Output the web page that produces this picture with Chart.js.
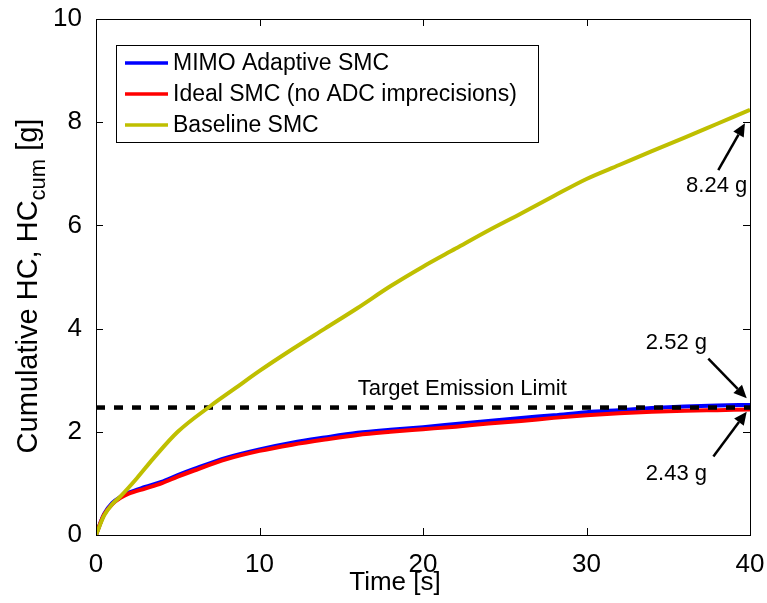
<!DOCTYPE html>
<html>
<head>
<meta charset="utf-8">
<script src="https://cdn.jsdelivr.net/npm/chart.js@4.4.1/dist/chart.umd.min.js"></script>
<style>
html,body{margin:0;padding:0;background:#fff;}
canvas{display:block;}
</style>
</head>
<body>
<canvas id="c" width="767" height="603"></canvas>
<script>
// ---- data ----
const timeSMC = [0,0.25,0.5,1,1.5,2,3,4,5,6,8,10,12,14,16,18,20,22,24,26,28,30,32,34,36,38,40];
const mimoAdaptive = [0,0.22,0.41,0.62,0.74,0.82,0.93,1.03,1.16,1.28,1.5,1.66,1.79,1.89,1.98,2.04,2.09,2.15,2.21,2.27,2.32,2.38,2.42,2.46,2.49,2.51,2.52];
const idealSMC = [0,0.22,0.4,0.6,0.72,0.8,0.9,1.0,1.13,1.25,1.47,1.63,1.75,1.85,1.94,2.0,2.05,2.1,2.16,2.21,2.27,2.32,2.36,2.39,2.41,2.42,2.43];
const timeBaseline = [0,0.5,1,1.5,2.5,3.5,5,7,8.5,10,12,14,16,18,20,22,24,26,28,30,32,34,36,38,40];
const baselineSMC = [0,0.38,0.6,0.75,1.1,1.48,2.0,2.5,2.84,3.18,3.6,4.0,4.4,4.82,5.2,5.55,5.9,6.23,6.57,6.9,7.17,7.44,7.7,7.97,8.24];
const targetTime = [0,40];
const targetLimit = [2.47,2.47];
const xTicks = [0,10,20,30,40];
const yTicks = [0,2,4,6,8,10];
const seriesNames = ['MIMO Adaptive SMC','Ideal SMC (no ADC imprecisions)','Baseline SMC'];
const targetLabel = 'Target Emission Limit';
// annotations: [label, textT, textV, tailT, tailV, headT, headV]
const annotations = [
  ['8.24 g', 37.96, 6.65, 38.06, 7.07, 39.69, 7.98],
  ['2.52 g', 35.5, 3.6, 37.45, 3.42, 39.8, 2.65],
  ['2.43 g', 35.5, 1.07, 37.76, 1.52, 39.8, 2.39]
];

const BLUE='#0000FF', RED='#FF0000', YEL='#BFBF00';
const FONT='Arial, "Liberation Sans", sans-serif';

function pts(xs, ys){ return xs.map((x,i)=>({x:x, y:ys[i]})); }

const overlay = {
  id:'overlay',
  beforeDraw(chart){
    const ctx=chart.ctx; ctx.save(); ctx.fillStyle='#fff'; ctx.fillRect(0,0,chart.width,chart.height); ctx.restore();
  },
  afterDatasetsDraw(chart){
    const ctx=chart.ctx, a=chart.chartArea, sx=chart.scales.x, sy=chart.scales.y;
    ctx.save();
    // frame
    ctx.strokeStyle='#000'; ctx.lineWidth=1;
    ctx.strokeRect(Math.round(a.left)+0.5, Math.round(a.top)+0.5, Math.round(a.right-a.left), Math.round(a.bottom-a.top));
    // inward ticks
    const tl=7;
    ctx.beginPath();
    xTicks.forEach(v=>{const px=Math.round(sx.getPixelForValue(v))+0.5;
      ctx.moveTo(px,a.bottom); ctx.lineTo(px,a.bottom-tl);
      ctx.moveTo(px,a.top); ctx.lineTo(px,a.top+tl);});
    yTicks.forEach(v=>{const py=Math.round(sy.getPixelForValue(v))+0.5;
      ctx.moveTo(a.left,py); ctx.lineTo(a.left+tl,py);
      ctx.moveTo(a.right,py); ctx.lineTo(a.right-tl,py);});
    ctx.stroke();

    // target label
    ctx.fillStyle='#000';
    ctx.font='22px '+FONT; ctx.textAlign='center'; ctx.textBaseline='alphabetic';
    ctx.fillText(targetLabel, sx.getPixelForValue(22.4), sy.getPixelForValue(2.71));

    // annotations with arrows
    annotations.forEach(an=>{
      const [lab,tt,tv,t0,v0,t1,v1]=an;
      ctx.fillText(lab, sx.getPixelForValue(tt), sy.getPixelForValue(tv));
      const x0=sx.getPixelForValue(t0), y0=sy.getPixelForValue(v0);
      const x1=sx.getPixelForValue(t1), y1=sy.getPixelForValue(v1);
      const ang=Math.atan2(y1-y0,x1-x0), hl=13, hw=6;
      const bx=x1-hl*Math.cos(ang), by=y1-hl*Math.sin(ang);
      ctx.strokeStyle='#000'; ctx.lineWidth=2.5;
      ctx.beginPath(); ctx.moveTo(x0,y0); ctx.lineTo(bx,by); ctx.stroke();
      ctx.beginPath();
      ctx.moveTo(x1,y1);
      ctx.lineTo(bx+hw*Math.sin(ang), by-hw*Math.cos(ang));
      ctx.lineTo(bx-hw*Math.sin(ang), by+hw*Math.cos(ang));
      ctx.closePath(); ctx.fill();
    });

    // legend
    const lx=116, ly=45, lw=422, lh=97;
    ctx.fillStyle='#fff'; ctx.fillRect(lx,ly,lw,lh);
    ctx.strokeStyle='#000'; ctx.lineWidth=1; ctx.strokeRect(lx+0.5,ly+0.5,lw,lh);
    const cols=[BLUE,RED,YEL], rows=[63,94,125];
    ctx.font='23px '+FONT; ctx.textAlign='left'; ctx.textBaseline='middle';
    seriesNames.forEach((n,i)=>{
      ctx.strokeStyle=cols[i]; ctx.lineWidth=3.5;
      ctx.beginPath(); ctx.moveTo(125,rows[i]); ctx.lineTo(168,rows[i]); ctx.stroke();
      ctx.fillStyle='#000'; ctx.fillText(n,173,rows[i]+1);
    });

    // axis titles
    ctx.fillStyle='#000';
    ctx.font='26px '+FONT; ctx.textAlign='center'; ctx.textBaseline='alphabetic';
    ctx.fillText('Time [s]', 395, 590);
    // y title with subscript
    ctx.save();
    ctx.translate(37, 286); ctx.rotate(-Math.PI/2);
    const p1='Cumulative HC, HC', p2='cum', p3=' [g]';
    ctx.font='29px '+FONT; const w1=ctx.measureText(p1).width, w3=ctx.measureText(p3).width;
    ctx.font='22px '+FONT; const w2=ctx.measureText(p2).width;
    let x=-(w1+w2+w3)/2;
    ctx.textAlign='left';
    ctx.font='29px '+FONT; ctx.fillText(p1,x,0); x+=w1;
    ctx.font='22px '+FONT; ctx.fillText(p2,x,8); x+=w2;
    ctx.font='29px '+FONT; ctx.fillText(p3,x,0);
    ctx.restore();
    ctx.restore();
  }
};

new Chart(document.getElementById('c'), {
  type:'line',
  data:{
    datasets:[
      {label:seriesNames[0], data:pts(timeSMC,mimoAdaptive), borderColor:BLUE, borderWidth:4, order:3},
      {label:seriesNames[1], data:pts(timeSMC,idealSMC), borderColor:RED, borderWidth:4, order:2},
      {label:seriesNames[2], data:pts(timeBaseline,baselineSMC), borderColor:YEL, borderWidth:4, order:0},
      {label:targetLabel, data:pts(targetTime,targetLimit), borderColor:'#000', borderWidth:4.5, borderDash:[9,9], order:1, cubicInterpolationMode:'default'}
    ]
  },
  options:{
    responsive:false, animation:false, devicePixelRatio:1,
    elements:{point:{radius:0}, line:{cubicInterpolationMode:'monotone', fill:false, borderCapStyle:'butt'}},
    layout:{padding:{left:0,right:17,top:19,bottom:0}},
    plugins:{legend:{display:false}, tooltip:{enabled:false}, title:{display:false}},
    scales:{
      x:{type:'linear', min:0, max:40,
         afterBuildTicks(s){ s.ticks=xTicks.map(v=>({value:v})); },
         afterFit(s){ s.height=68; s.paddingLeft=0; s.paddingRight=0; },
         grid:{display:false}, border:{display:false},
         ticks:{color:'#000', font:{size:26, family:FONT}, padding:6, maxRotation:0, autoSkip:false}},
      y:{type:'linear', min:0, max:10,
         afterBuildTicks(s){ s.ticks=yTicks.map(v=>({value:v})); },
         afterFit(s){ s.width=96; s.paddingTop=0; s.paddingBottom=0; },
         grid:{display:false}, border:{display:false},
         ticks:{color:'#000', font:{size:26, family:FONT}, padding:6}}
    }
  },
  plugins:[overlay]
});
</script>
</body>
</html>
